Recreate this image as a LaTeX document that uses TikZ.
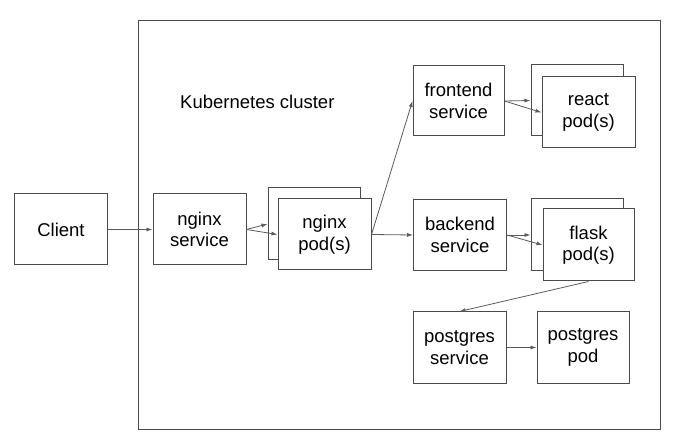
\documentclass[tikz,border=0pt]{standalone}
\usepackage{fontspec}
\setmainfont{Liberation Sans}
\usetikzlibrary{arrows.meta}
\definecolor{edge}{HTML}{4A4A4A}
\definecolor{arr}{HTML}{5A5A5A}
\begin{document}
\begin{tikzpicture}[x=1bp,y=-1bp,
  box/.style={draw=edge, line width=1bp, fill=white, inner sep=0pt, align=center,
    minimum width=92bp, minimum height=71bp,
    font=\fontsize{18.5bp}{21.5bp}\selectfont},
  conn/.style={draw=arr, line width=0.8bp, -{Latex[length=6bp,width=4bp]}}]
\useasboundingbox (0,0) rectangle (682,447);
\node[draw=edge, line width=1bp, inner sep=0pt, minimum width=521bp, minimum height=408bp] (cluster) at (399.5,225) {};
\node[anchor=base west, inner sep=0pt, font=\fontsize{18.5bp}{21.5bp}\selectfont] (label) at (180,109) {Kubernetes cluster};

\node[box] (client) at (61,229.5) {Client};
\node[box, minimum width=93bp] (nginxsvc) at (199.5,229.5) {nginx\\service};
\node[box, minimum height=72bp] (nginxback) at (314,224) {};
\node[box, minimum width=93bp] (nginxfront) at (324.5,234.5) {nginx\\pod(s)};

\node[box, minimum width=91bp, minimum height=70bp] (frontend) at (458.5,101) {frontend\\service};
\node[box] (reactback) at (577,100.5) {};
\node[box, minimum width=93bp] (reactfront) at (588.5,112.5) {react\\pod(s)};

\node[box, minimum width=93bp] (backend) at (460,235) {backend\\service};
\node[box, minimum height=72bp] (flaskback) at (577,235) {};
\node[box, minimum width=91bp, minimum height=72bp] (flaskfront) at (588.5,245) {flask\\pod(s)};

\node[box, minimum width=93bp] (pgsvc) at (459.5,347.5) {postgres\\service};
\node[box] (pgpod) at (583,347.5) {postgres\\pod};

\draw[conn] (client.east) -- (nginxsvc.west);
\draw[conn] (nginxsvc.east) -- (nginxback.west);
\draw[conn] (nginxsvc.east) -- (nginxfront.west);
\draw[conn] (nginxfront.east) -- (backend.west);
\draw[conn] (nginxfront.east) -- (frontend.west);
\draw[conn] (frontend.east) -- (reactback.west);
\draw[conn] (frontend.east) -- (reactfront.west);
\draw[conn] (backend.east) -- (flaskback.west);
\draw[conn] (backend.east) -- (flaskfront.west);
\draw[conn] (flaskfront.south) -- (pgsvc.north);
\draw[conn] (pgsvc.east) -- (pgpod.west);
\end{tikzpicture}
\end{document}
